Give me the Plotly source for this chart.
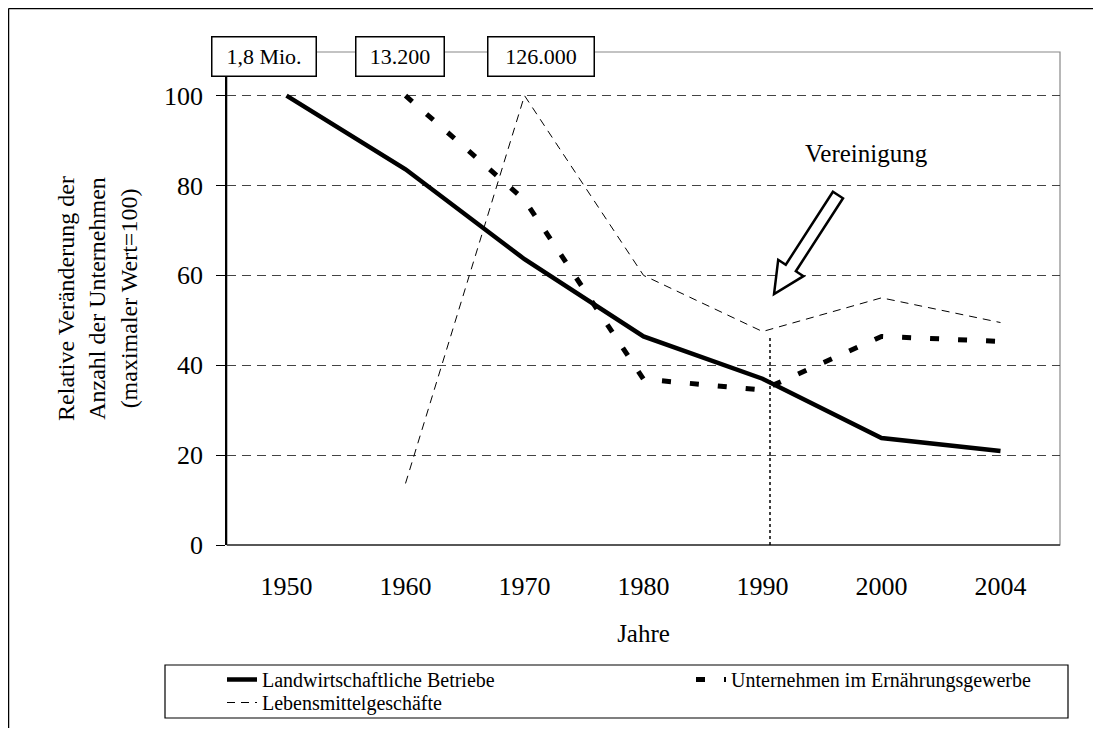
import math
import plotly.graph_objects as go

years = ["1950", "1960", "1970", "1980", "1990", "2000", "2004"]
landwirtschaft = [100, 83.6, 63.6, 46.4, 37.0, 23.8, 20.9]
ernaehrung = [None, 100, 76.8, 36.9, 34.5, 46.4, 45.3]
lebensmittel = [None, 13.7, 100, 60.0, 47.5, 55.0, 49.5]
box_labels = ["1,8 Mio.", "13.200", "126.000"]
y_ticks = [0, 20, 40, 60, 80, 100]

OFF = 8  # page body margin
W, H = 1101 - 2 * OFF, 736 - 2 * OFF
PLOT_L, PLOT_R, PLOT_T, PLOT_B = 227, 1060, 52, 545  # screen pixels of plot area
L = PLOT_L - OFF
T = PLOT_T - OFF
R = W - (PLOT_R - OFF)
B = H - (PLOT_B - OFF)
PW, PH = PLOT_R - PLOT_L, PLOT_B - PLOT_T


def rp(px, py):
    """screen pixel -> paper coordinates"""
    return (px - PLOT_L) / PW, (PLOT_B - py) / PH


x_idx = list(range(len(years)))
FONT = "Liberation Serif, Times New Roman, serif"

fig = go.Figure()
fig.add_trace(go.Scatter(x=x_idx, y=landwirtschaft, mode="lines", name="Landwirtschaftliche Betriebe",
                         line=dict(color="black", width=4.5), legend="legend"))
fig.add_trace(go.Scatter(x=x_idx, y=ernaehrung, mode="lines", name="Unternehmen im Ernährungsgewerbe",
                         line=dict(color="black", width=5, dash="9px,19px"), legend="legend2"))
fig.add_trace(go.Scatter(x=x_idx, y=lebensmittel, mode="lines", name="Lebensmittelgeschäfte",
                         line=dict(color="black", width=1, dash="8px,6px"), legend="legend3"))

shapes = []
# outer frame: top and left edges
tl = rp(8.5, 8.5)
far = rp(1130, 770)
shapes.append(dict(type="line", xref="paper", yref="paper", x0=tl[0], y0=tl[1], x1=far[0], y1=tl[1],
                   line=dict(color="black", width=1.5), layer="below"))
shapes.append(dict(type="line", xref="paper", yref="paper", x0=tl[0], y0=tl[1], x1=tl[0], y1=far[1],
                   line=dict(color="black", width=1.5), layer="below"))
# plot frame
shapes.append(dict(type="rect", xref="paper", yref="paper", x0=0, y0=0, x1=1, y1=1,
                   line=dict(color="#888", width=1.2), layer="below"))
shapes.append(dict(type="line", xref="paper", yref="paper", x0=0, y0=0, x1=1, y1=0,
                   line=dict(color="#333", width=1.5)))
# vertical dotted line (Vereinigung)
shapes.append(dict(type="line", xref="x", yref="y", x0=4.063, x1=4.063, y0=0, y1=46.3,
                   line=dict(color="black", width=1.5, dash="dot")))
# hollow block arrow
tip = (774, 294)
tail = (838, 195)
dx, dy = tip[0] - tail[0], tip[1] - tail[1]
ln = math.hypot(dx, dy)
ux, uy = dx / ln, dy / ln
nx, ny = -uy, ux
sw, hw, hl = 6, 15, 31
bx, by = tip[0] - ux * hl, tip[1] - uy * hl
pts = [(tail[0] + nx * sw, tail[1] + ny * sw), (bx + nx * sw, by + ny * sw), (bx + nx * hw, by + ny * hw), tip,
       (bx - nx * hw, by - ny * hw), (bx - nx * sw, by - ny * sw), (tail[0] - nx * sw, tail[1] - ny * sw)]
pp = [rp(*p) for p in pts]
path = "M " + " L ".join(f"{a:.4f},{b:.4f}" for a, b in pp) + " Z"
shapes.append(dict(type="path", xref="paper", yref="paper", path=path,
                   line=dict(color="black", width=2.5), fillcolor="white"))
# legend frame
lx0, ly0 = rp(165, 665)
lx1, ly1 = rp(1068, 718)
shapes.append(dict(type="rect", xref="paper", yref="paper", x0=lx0, y0=ly0, x1=lx1, y1=ly1,
                   line=dict(color="black", width=1.2), fillcolor="rgba(0,0,0,0)"))

annotations = []
box_pos = [(264, 107), (400, 91), (541, 109)]
for txt, (cx, bw) in zip(box_labels, box_pos):
    ax, ay = rp(cx, 56)
    annotations.append(dict(text=txt, xref="paper", yref="paper", x=ax, y=ay, showarrow=False,
                            font=dict(family=FONT, size=22, color="black"), width=bw - 6, height=36,
                            bgcolor="white", bordercolor="black", borderwidth=1.5, borderpad=1,
                            xanchor="center", yanchor="middle"))
vx, vy = rp(866, 153)
annotations.append(dict(text="Vereinigung", xref="paper", yref="paper", x=vx, y=vy, showarrow=False,
                        font=dict(family=FONT, size=25, color="black"), xanchor="center", yanchor="middle"))

leg_font = dict(family=FONT, size=20, color="black")
leg_common = dict(orientation="v", xref="paper", yref="paper", xanchor="left", yanchor="top",
                  bgcolor="rgba(0,0,0,0)", borderwidth=0, font=leg_font, traceorder="normal")
fig.update_layout(
    width=W, height=H,
    margin=dict(l=L, r=R, t=T, b=B, autoexpand=False),
    paper_bgcolor="white", plot_bgcolor="white",
    font=dict(family=FONT, color="black"),
    shapes=shapes, annotations=annotations,
    showlegend=True,
    legend=dict(x=rp(222, 0)[0], y=rp(0, 660)[1], **leg_common),
    legend2=dict(x=rp(691, 0)[0], y=rp(0, 660)[1], **leg_common),
    legend3=dict(x=rp(222, 0)[0], y=rp(0, 683)[1], **leg_common),
)
fig.update_xaxes(range=[-0.5, 6.5], tickmode="array", tickvals=x_idx, ticktext=years,
                 showgrid=False, zeroline=False, showline=False, ticks="",
                 tickfont=dict(family=FONT, size=26, color="black"), ticklabelstandoff=23,
                 title=dict(text="Jahre", font=dict(family=FONT, size=25, color="black"), standoff=24))
fig.update_yaxes(range=[0, 109.7], tickmode="array", tickvals=y_ticks,
                 showgrid=True, gridcolor="#444", gridwidth=1, griddash="9px,6px",
                 zeroline=False, showline=True, linecolor="black", linewidth=1.5,
                 ticks="outside", ticklen=9, tickcolor="black", tickwidth=1,
                 tickfont=dict(family=FONT, size=26, color="black"), ticklabelstandoff=8,
                 title=dict(text="Relative Veränderung der<br>Anzahl der Unternehmen<br>(maximaler Wert=100)",
                            font=dict(family=FONT, size=24, color="black"), standoff=20))

fig.write_html("out.html")
